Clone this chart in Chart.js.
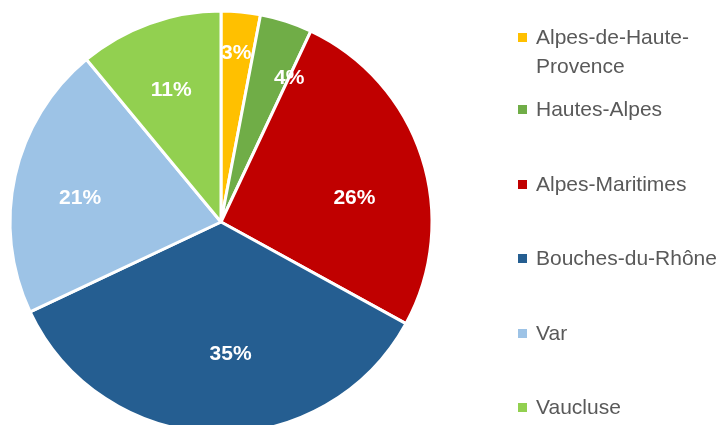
<!DOCTYPE html>
<html lang="fr">
<head>
<meta charset="utf-8">
<title>Répartition par département</title>
<script src="https://cdn.jsdelivr.net/npm/chart.js@4/dist/chart.umd.min.js"></script>
<style>
    html, body {
        margin: 0;
        padding: 0;
        background: #ffffff;
        overflow: hidden;
        width: 721px;
        height: 425px;
    }
    #pieChart {
        position: absolute;
        left: 0;
        top: 0;
    }
    #legend {
        position: absolute;
        left: 0;
        top: 0;
        width: 721px;
        height: 425px;
        font-family: "Liberation Sans", Arial, sans-serif;
        font-size: 21px;
        line-height: 29px;
        color: #595959;
    }
    .legend-item {
        position: absolute;
        left: 536px;
        width: 185px;
    }
    .legend-box {
        position: absolute;
        left: -18px;
        top: 11px;
        width: 9px;
        height: 9px;
    }
</style>
</head>
<body>
<canvas id="pieChart" width="442" height="444"></canvas>
<div id="legend"></div>

<script>
// ===============================
//  DATA
// ===============================
const DEPARTEMENTS = [
    "Alpes-de-Haute-Provence",
    "Hautes-Alpes",
    "Alpes-Maritimes",
    "Bouches-du-Rhône",
    "Var",
    "Vaucluse"
];

// legend text, with the forced line break on the first entry
const LEGEND_TEXT = [
    "Alpes-de-Haute-<br>Provence",
    "Hautes-Alpes",
    "Alpes-Maritimes",
    "Bouches-du-Rhône",
    "Var",
    "Vaucluse"
];

const PARTS = [3, 4, 26, 35, 21, 11];

const COULEURS = [
    "#FFC000",
    "#70AD47",
    "#C00000",
    "#255E91",
    "#9DC3E6",
    "#92D050"
];

// small hand tweaks (px) to the "best fit" spot of each percent label
const LABEL_NUDGE = [[-1, 3], [16, 17], [-1, 20], [14, -9], [-3, 7], [-2, 1]];

// ===============================
//  PERCENT LABELS ON SLICES
// ===============================
const sliceLabels = {
    id: "sliceLabels",
    afterDatasetsDraw(chart) {
        const ctx = chart.ctx;
        const meta = chart.getDatasetMeta(0);
        const values = chart.data.datasets[0].data;
        const total = values.reduce((a, b) => a + b, 0);

        ctx.save();
        ctx.font = "bold 21px 'Liberation Sans', Arial, sans-serif";
        ctx.fillStyle = "#ffffff";
        ctx.textAlign = "center";
        ctx.textBaseline = "middle";

        meta.data.forEach((arc, i) => {
            const p = arc.getProps(["x", "y", "startAngle", "endAngle", "outerRadius"], true);
            const mid = (p.startAngle + p.endAngle) / 2;
            const half = (p.endAngle - p.startAngle) / 2;
            const text = Math.round(values[i] / total * 100) + "%";
            const w = ctx.measureText(text).width;

            // push narrow slices' labels outwards so the text fits
            let r = p.outerRadius * 0.67;
            const need = (w / 2 + 6) / Math.sin(half);
            if (need > r) r = Math.min(need, p.outerRadius * 0.82);

            const [nx, ny] = LABEL_NUDGE[i] || [0, 0];
            ctx.fillText(text, p.x + Math.cos(mid) * r + nx, p.y + Math.sin(mid) * r + ny);
        });
        ctx.restore();
    }
};

// ===============================
//  LEGEND
// ===============================
function buildLegend() {
    const box = document.getElementById("legend");
    box.innerHTML = "";

    DEPARTEMENTS.forEach((d, i) => {
        const item = document.createElement("div");
        item.className = "legend-item";
        item.style.top = (i === 0 ? 22 : 94 + (i - 1) * 74.5) + "px";
        item.innerHTML = `<span class="legend-box" style="background:${COULEURS[i]}"></span>${LEGEND_TEXT[i]}`;
        box.appendChild(item);
    });
}

// ===============================
//  PIE
// ===============================
function buildChart() {
    new Chart(document.getElementById("pieChart"), {
        type: "pie",
        data: {
            labels: DEPARTEMENTS,
            datasets: [{
                data: PARTS,
                backgroundColor: COULEURS,
                borderColor: "#ffffff",
                borderWidth: 3,
                radius: 211
            }]
        },
        options: {
            responsive: false,
            animation: false,
            layout: { padding: 0 },
            plugins: {
                legend: { display: false },
                tooltip: { enabled: false }
            }
        },
        plugins: [sliceLabels]
    });
}

buildLegend();
buildChart();
</script>
</body>
</html>
